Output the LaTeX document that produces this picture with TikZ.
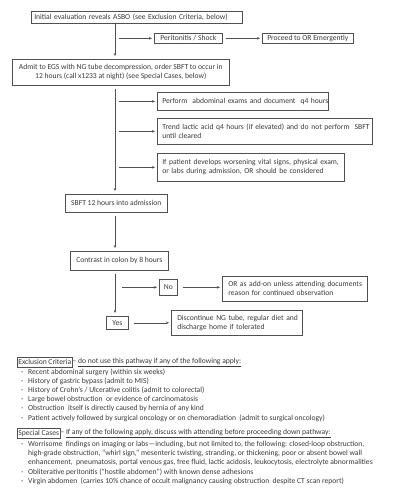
\documentclass[tikz,border=0pt]{standalone}
\usepackage{fontspec}
\setmainfont{Carlito}
\usetikzlibrary{arrows.meta}
\definecolor{txt}{HTML}{3A3A3A}
\definecolor{ln}{HTML}{505050}
\newcommand{\fs}{\fontsize{7.6}{9}\selectfont}
\newcommand{\fl}{\fontsize{7.6}{9.2}\selectfont}
\newcommand{\ml}[1]{\mbox{#1}}
\begin{document}
\begin{tikzpicture}[x=1pt,y=-1pt,
  box/.style={draw=ln, line width=0.6pt, inner xsep=4pt, inner ysep=0pt, text=txt, font=\fs, anchor=north west},
  lbox/.style={box, inner xsep=5pt, align=left},
  cbox/.style={box, align=center},
  arr/.style={draw=ln, line width=0.6pt, -{Stealth[length=3pt,width=2.6pt]}, shorten >=2pt},
  varr/.style={arr, shorten <=3pt, shorten >=3pt},
  plain/.style={text=txt, font=\fl, inner sep=0pt}
  ]
\useasboundingbox (0,0) rectangle (402,496);
\fill[white] (0,0) rectangle (402,496);

\coordinate (tk) at (115,0);
\coordinate (tb) at (119,0);

\node[box, inner xsep=3pt, align=left, text width=205pt, minimum height=12pt] (b1) at (31,11) {\ml{Initial evaluation reveals ASBO (see Exclusion Criteria, below)}};
\node[cbox, inner xsep=2pt, minimum width=68pt, minimum height=10pt] (per) at (154,33) {Peritonitis / Shock};
\node[cbox, inner xsep=2pt, minimum width=91pt, minimum height=10pt] (proc) at (262,33) {Proceed to OR Emergently};
\node[cbox, inner xsep=2pt, minimum width=217pt, minimum height=26pt] (b2) at (12,59) {Admit to EGS with NG tube decompression, order SBFT to occur in\\12 hours (call x1233 at night) (see Special Cases, below)};
\node[lbox, text width=161pt, minimum height=18pt] (perf) at (157,92) {\ml{Perform\ \ abdominal exams and document\ \ q4 hours}};
\node[lbox, text width=205pt, minimum height=26pt] (trend) at (157,118) {\ml{Trend lactic acid q4 hours (if elevated) and do not perform\ \ SBFT}\\\ml{until cleared}};
\node[lbox, text width=177pt, minimum height=28pt] (ifb) at (157,153) {\ml{If patient develops worsening vital signs, physical exam,}\\\ml{or labs during admission, OR should be considered}};
\node[cbox, minimum width=102pt, minimum height=18pt] (sbft) at (65,194) {SBFT 12 hours into admission};
\node[cbox, minimum width=98pt, minimum height=19pt] (contr) at (70,251) {Contrast in colon by 8 hours};
\node[cbox, inner xsep=2pt, minimum width=18pt, minimum height=16pt] (no) at (159,279) {No};
\node[lbox, inner xsep=6pt, text width=133pt, minimum height=25pt] (orb) at (222,276) {\ml{OR as add-on unless attending documents}\\\ml{reason for continued observation}};
\node[cbox, inner xsep=2pt, minimum width=22pt, minimum height=13pt] (yes) at (106,316) {Yes};
\node[lbox, inner xsep=6pt, text width=119pt, minimum height=25pt] (disc) at (171,310) {\ml{Discontinue NG tube, regular diet and}\\\ml{discharge home if tolerated}};

% trunk
\draw[varr, shorten <=0pt] (b1.south -| tk) -- (b2.north -| tk);
\draw[varr] (b2.south -| tk) -- (sbft.north -| tk);
\draw[varr] (sbft.south -| tk) -- (contr.north -| tk);
\draw[varr] (contr.south -| tk) -- (yes.north -| tk);

% branches
\draw[arr] (tb |- per.west) -- (per.west);
\draw[arr, shorten <=3pt] (per.east) -- (proc.west);
\draw[arr] (tb |- perf.west) -- (perf.west);
\draw[arr] (tb |- trend.west) -- (trend.west);
\draw[arr] (tb |- ifb.west) -- (ifb.west);
\draw[arr] ([xshift=3pt]tb |- no.west) -- (no.west);
\draw[arr, shorten <=5pt] (no.east) -- (no.east -| orb.west);
\draw[arr, shorten <=5pt] (yes.east) -- (yes.east -| disc.west);

% exclusion criteria
\node[box, font=\fl, inner xsep=1pt, minimum height=10pt] (exc) at (17,357) {Exclusion Criteria};
\node[plain, anchor=west] (exct) at (exc.east) {–\ \underline{do not use this pathway if any of the following apply:}};
\node[plain, anchor=north west] (excl) at (21,367.4) {\begin{tabular}{@{}p{7pt}@{}l@{}}
-& Recent abdominal surgery (within six weeks)\\
-& History of gastric bypass (admit to MIS)\\
-& History of Crohn’s / Ulcerative colitis (admit to colorectal)\\
-& Large bowel obstruction\ \ or evidence of carcinomatosis\\
-& Obstruction\ \ itself is directly caused by hernia of any kind\\
-& Patient actively followed by surgical oncology or on chemoradiation\ \ (admit to surgical oncology)
\end{tabular}};

% special cases
\node[box, font=\fl, inner xsep=1pt, minimum height=10pt] (spc) at (17,428) {Special Cases};
\node[plain, anchor=west] (spct) at (spc.east) {–\ \underline{If any of the following apply, discuss with attending before proceeding down pathway:}};
\node[plain, anchor=north west] (spcl) at (21,439.3) {\fontsize{7.6}{9.4}\selectfont\begin{tabular}{@{}p{7pt}@{}l@{}}
-& Worrisome\ \ findings on imaging or labs—including, but not limited to, the following: closed-loop obstruction,\\
 & high-grade obstruction, “whirl sign,” mesenteric twisting, stranding, or thickening, poor or absent bowel wall\\
 & enhancement,\ \ pneumatosis, portal venous gas, free fluid, lactic acidosis, leukocytosis, electrolyte abnormalities\\
-& Obliterative peritonitis (“hostile abdomen”) with known dense adhesions\\
-& Virgin abdomen\ \ (carries 10\% chance of occult malignancy causing obstruction\ \ despite CT scan report)
\end{tabular}};
\end{tikzpicture}
\end{document}
